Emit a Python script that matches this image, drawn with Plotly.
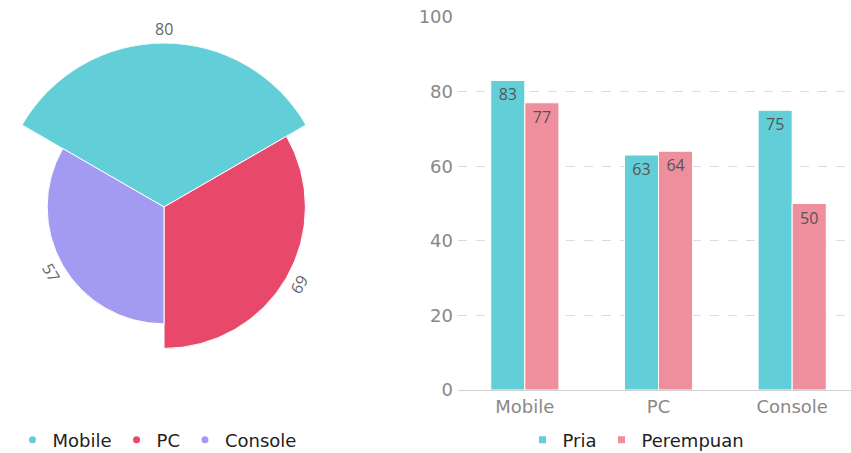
import math
import plotly.graph_objects as go

# ---- data ----
platforms = ["Mobile", "PC", "Console"]
platform_values = [80, 69, 57]
platform_colors = ["#62CFD8", "#E8496A", "#A39BF1"]

bar_categories = ["Mobile", "PC", "Console"]
pria = [83, 63, 75]
perempuan = [77, 64, 50]
series_names = ["Pria", "Perempuan"]
series_colors = ["#62CFD8", "#EF8E9D"]
y_ticks = [0, 20, 40, 60, 80, 100]

W, H = 851, 453
FONT = "DejaVu Sans"

fig = go.Figure()

# ---- rose chart (left) ----
sector = 360 / len(platforms)
thetas = [i * sector for i in range(len(platforms))]
fig.add_trace(go.Barpolar(
    r=platform_values, theta=thetas, width=[sector] * len(platforms),
    marker=dict(color=platform_colors, line=dict(color="white", width=1)),
    showlegend=False, subplot="polar", hoverinfo="skip",
))
for name, col in zip(platforms, platform_colors):
    fig.add_trace(go.Scatterpolar(
        r=[None], theta=[None], mode="markers", name=name,
        marker=dict(color=col, size=7, symbol="circle"),
        subplot="polar", legend="legend",
    ))

# polar geometry (px)
cx_px, cy_px, R = 164, 207, 164
rmax = max(platform_values)
polar_dom_x = [max(0, (cx_px - R) / W), (cx_px + R) / W]
polar_dom_y = [(H - cy_px - R) / H, (H - cy_px + R) / H]

annotations = []
for v, th in zip(platform_values, thetas):
    rr = v / rmax * R + 14
    a = math.radians(th)
    xpx = cx_px + rr * math.sin(a)
    ypx = cy_px - rr * math.cos(a)
    ang = th if (th <= 90 or th >= 270) else th - 180
    if ang > 180:
        ang -= 360
    annotations.append(dict(
        x=xpx / W, y=(H - ypx) / H, xref="paper", yref="paper",
        text=str(v), showarrow=False, textangle=ang,
        font=dict(family="Open Sans", size=16, color="#666"),
        xanchor="center", yanchor="middle",
    ))

# ---- grouped bars (right) ----
for name, vals, col in zip(series_names, [pria, perempuan], series_colors):
    fig.add_trace(go.Bar(
        x=bar_categories, y=vals, name=name,
        marker=dict(color=col, line=dict(color="white", width=1)),
        text=vals, textposition="inside", insidetextanchor="end",
        textfont=dict(family="Open Sans", size=16, color="#555"),
        xaxis="x", yaxis="y", showlegend=False, hoverinfo="skip",
    ))
    fig.add_trace(go.Scatter(
        x=[None], y=[None], mode="markers", name=name,
        marker=dict(color=col, size=7, symbol="square"),
        xaxis="x", yaxis="y", legend="legend2",
    ))

fig.update_layout(
    width=W, height=H,
    margin=dict(l=0, r=0, t=0, b=0, autoexpand=False),
    paper_bgcolor="white", plot_bgcolor="white",
    font=dict(family=FONT, size=18, color="#888"),
    barmode="group", bargap=0.49, bargroupgap=0.0,
    polar=dict(
        domain=dict(x=polar_dom_x, y=polar_dom_y),
        bgcolor="white",
        angularaxis=dict(rotation=90, direction="clockwise", visible=False,
                         showgrid=False, showline=False, showticklabels=False),
        radialaxis=dict(range=[0, rmax], visible=False, showgrid=False,
                        showline=False, showticklabels=False),
    ),
    xaxis=dict(
        domain=[458 / W, 1], range=[-0.5, 2.44], showgrid=False,
        showline=True, linecolor="#d0d0d0", linewidth=1, ticks="",
        tickfont=dict(family=FONT, size=18, color="#888"),
        fixedrange=True, automargin=False,
    ),
    yaxis=dict(
        domain=[(H - 390) / H, (H - 17) / H], range=[0, 100],
        tickvals=y_ticks, showgrid=True, gridcolor="#dddddd", griddash="dash",
        zeroline=False, showline=False, ticks="",
        tickfont=dict(family=FONT, size=18, color="#888"),
        ticklabelstandoff=4, automargin=False,
    ),
    legend=dict(
        orientation="h", x=157 / W, y=(H - 440) / H, xanchor="center", yanchor="middle",
        font=dict(family=FONT, size=18, color="#222"), bgcolor="rgba(0,0,0,0)",
        itemwidth=30,
    ),
    legend2=dict(
        orientation="h", x=636 / W, y=(H - 440) / H, xanchor="center", yanchor="middle",
        font=dict(family=FONT, size=18, color="#222"), bgcolor="rgba(0,0,0,0)",
        itemwidth=30,
    ),
    annotations=annotations,
    showlegend=True,
)

fig.write_html("out.html")
